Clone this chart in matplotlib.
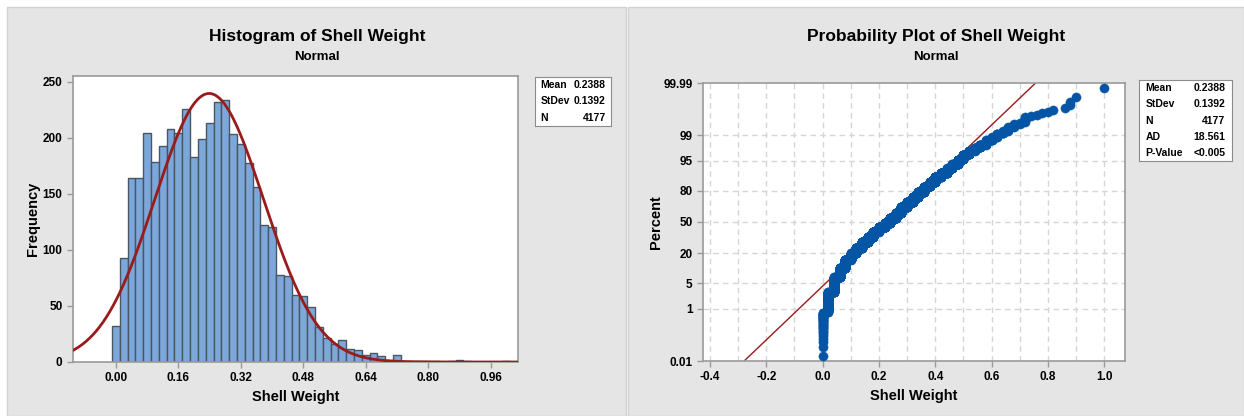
import matplotlib
matplotlib.use("Agg")
import matplotlib.pyplot as plt
from matplotlib.patches import Rectangle
from statistics import NormalDist
import numpy as np

matplotlib.rcParams['font.family'] = ['Liberation Sans', 'DejaVu Sans']
matplotlib.rcParams['font.weight'] = 'bold'

W, H = 1244, 416

# histogram of shell weight, bin midpoints 0.00 .. 1.00 (width 0.02)
bin_mids = np.round(np.arange(0.0, 1.001, 0.02), 2)
counts = [32, 93, 164, 164, 204, 178, 193, 208, 204, 226,
          183, 199, 213, 232, 234, 203, 194, 177, 156, 122,
          120, 78, 77, 60, 59, 49, 31, 21, 16, 20,
          12, 11, 6, 8, 5, 2, 6, 1, 1, 1,
          1, 1, 0, 1, 2, 1, 0, 0, 0, 0,
          1]
bin_width = 0.02

mean, stdev, n_obs = 0.2388, 0.1392, 4177
ad_stat = "18.561"
p_value = "<0.005"

hist_xticks = [0.00, 0.16, 0.32, 0.48, 0.64, 0.80, 0.96]
hist_yticks = [0, 50, 100, 150, 200, 250]
prob_xticks = [-0.4, -0.2, 0.0, 0.2, 0.4, 0.6, 0.8, 1.0]
prob_pct = [0.01, 1, 5, 20, 50, 80, 95, 99, 99.99]

BAR = '#7ba7da'
BAR_EDGE = '#4b5663'
FIT = '#9a1b1b'
DOT = '#0455a6'
SPINE = '#9a9a9a'
GRID = '#d6d6d6'
PANEL = '#e5e5e5'


def fx(px):
    return px / W


def fy(py):
    return 1 - py / H


def style_axes(ax):
    for s in ax.spines.values():
        s.set_color(SPINE)
        s.set_linewidth(1.2)
    ax.tick_params(colors=SPINE, labelcolor='black', labelsize=8.5,
                   length=4, width=1)
    for lab in ax.get_xticklabels() + ax.get_yticklabels():
        lab.set_fontweight('bold')


def stats_box(fig, x0, y0, x1, y1, rows):
    bx = fig.add_axes([fx(x0), fy(y1), fx(x1 - x0), (y1 - y0) / H])
    bx.set_xticks([])
    bx.set_yticks([])
    for s in bx.spines.values():
        s.set_color('#8c8c8c')
        s.set_linewidth(0.8)
    nrow = len(rows)
    for i, (k, v) in enumerate(rows):
        yy = 1 - (i + 0.5) / nrow
        bx.text(0.07, yy, k, ha='left', va='center', fontsize=7.5,
                fontweight='bold', transform=bx.transAxes)
        bx.text(0.93, yy, v, ha='right', va='center', fontsize=7.5,
                fontweight='bold', transform=bx.transAxes)


def main():
    fig = plt.figure(figsize=(W / 100, H / 100), dpi=100)
    fig.patch.set_facecolor('white')

    # grey panels (behind the axes)
    fig.patches.append(Rectangle((fx(7), 0), fx(619), fy(7), transform=fig.transFigure,
                                 facecolor=PANEL, edgecolor='#d2d2d2', lw=1, zorder=-10))
    fig.patches.append(Rectangle((fx(628), 0), fx(616), fy(7), transform=fig.transFigure,
                                 facecolor=PANEL, edgecolor='#d2d2d2', lw=1, zorder=-10))

    # ---------------- histogram ----------------
    ax = fig.add_axes([fx(73), fy(362), fx(518 - 73), (362 - 76) / H])
    ax.bar(bin_mids, counts, width=bin_width, color=BAR, edgecolor=BAR_EDGE,
           linewidth=1.0, zorder=2)
    xs = np.linspace(-0.11, 1.03, 400)
    pdf = np.array([NormalDist(mean, stdev).pdf(v) for v in xs])
    ax.plot(xs, pdf * n_obs * bin_width, color=FIT, lw=2, zorder=3)
    ax.set_xlim(-0.11, 1.03)
    ax.set_ylim(0, 255)
    ax.set_xticks(hist_xticks)
    ax.set_xticklabels(["%.2f" % t for t in hist_xticks])
    ax.set_yticks(hist_yticks)
    style_axes(ax)
    ax.set_xlabel("Shell Weight", fontsize=10.5, fontweight='bold', labelpad=4)
    ax.set_ylabel("Frequency", fontsize=10.5, fontweight='bold', labelpad=2)

    fig.text(fx(317), fy(36), "Histogram of Shell Weight", ha='center', va='center',
             fontsize=12.5, fontweight='bold')
    fig.text(fx(317), fy(57), "Normal", ha='center', va='center',
             fontsize=9.5, fontweight='bold')
    stats_box(fig, 535, 77, 611, 126,
              [("Mean", "%.4f" % mean), ("StDev", "%.4f" % stdev), ("N", str(n_obs))])

    # ---------------- probability plot ----------------
    nd = NormalDist()
    zlim = nd.inv_cdf(0.0001)
    px = fig.add_axes([fx(703), fy(361), fx(1125 - 703), (361 - 83) / H])
    sample = np.sort(np.repeat(bin_mids, counts))
    n = len(sample)
    ranks = (np.arange(1, n + 1) - 0.3) / (n + 0.4)
    zs = np.array([nd.inv_cdf(r) for r in ranks])

    for g in np.arange(-0.4, 1.05, 0.1):
        px.axvline(g, color=GRID, lw=1, ls=(0, (4, 3)), zorder=0)
    for p in prob_pct[1:-1]:
        px.axhline(nd.inv_cdf(p / 100), color=GRID, lw=1, ls=(0, (4, 3)), zorder=0)

    zz = np.array([zlim, -zlim])
    px.plot(mean + stdev * zz, zz, color=FIT, lw=1, zorder=2)
    px.scatter(sample, zs, s=44, color=DOT, edgecolor=DOT, linewidth=0.3, zorder=3)

    px.set_xlim(-0.425, 1.074)
    px.set_ylim(zlim, -zlim)
    px.set_xticks(prob_xticks)
    px.set_xticklabels(["%.1f" % t for t in prob_xticks])
    px.set_yticks([nd.inv_cdf(p / 100) for p in prob_pct])
    px.set_yticklabels(["%g" % p for p in prob_pct])
    style_axes(px)
    px.set_xlabel("Shell Weight", fontsize=10.5, fontweight='bold', labelpad=4)
    px.set_ylabel("Percent", fontsize=10.5, fontweight='bold', labelpad=0)

    fig.text(fx(936), fy(36), "Probability Plot of Shell Weight", ha='center', va='center',
             fontsize=12.5, fontweight='bold')
    fig.text(fx(936), fy(57), "Normal", ha='center', va='center',
             fontsize=9.5, fontweight='bold')
    stats_box(fig, 1139, 80, 1232, 161,
              [("Mean", "%.4f" % mean), ("StDev", "%.4f" % stdev), ("N", str(n_obs)),
               ("AD", ad_stat), ("P-Value", p_value)])

    fig.savefig("out.png", dpi=100)


if __name__ == '__main__':
    main()
